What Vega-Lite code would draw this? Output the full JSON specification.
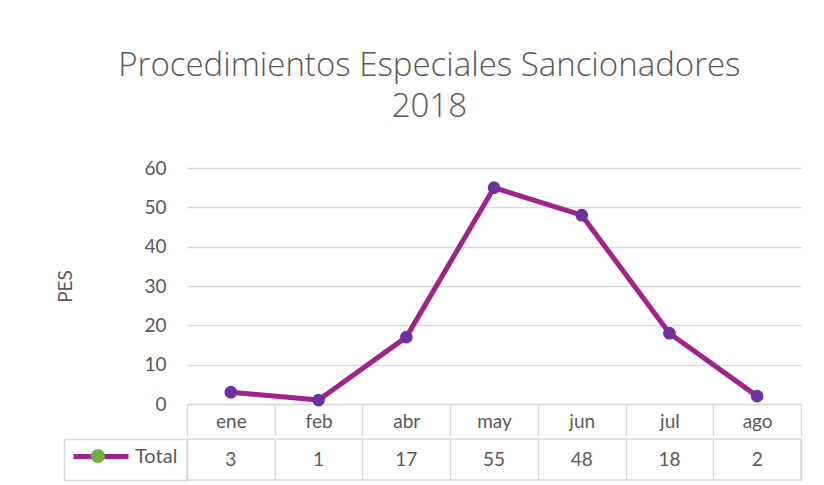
{
  "$schema": "https://vega.github.io/schema/vega-lite/v6.json",
  "background": "white",
  "padding": {"left": 56, "top": 50, "right": 21, "bottom": 8},
  "title": {
    "text": ["Procedimientos Especiales Sancionadores", "2018"],
    "font": "Open Sans", "fontSize": 33, "fontWeight": 300, "color": "#595959",
    "lineHeight": 41, "anchor": "middle", "offset": 35
  },
  "config": {"font": "Lato", "view": {"stroke": null}},
  "data": {
    "values": [
      {"mes": "ene", "total": 3},
      {"mes": "feb", "total": 1},
      {"mes": "abr", "total": 17},
      {"mes": "may", "total": 55},
      {"mes": "jun", "total": 48},
      {"mes": "jul", "total": 18},
      {"mes": "ago", "total": 2}
    ]
  },
  "spacing": 0,
  "vconcat": [
    {
      "width": 614,
      "height": 236,
      "encoding": {
        "x": {
          "field": "mes", "type": "nominal", "sort": null,
          "scale": {"paddingInner": 0, "paddingOuter": 0},
          "axis": {
            "title": null, "labelAngle": 0, "labelFontSize": 19, "labelColor": "#595959",
            "labelPadding": -24, "tickBand": "extent", "tickSize": 32,
            "tickColor": "#D9D9D9", "tickWidth": 1.5,
            "domainColor": "#D9D9D9", "domainWidth": 1.5, "grid": false
          }
        },
        "y": {
          "field": "total", "type": "quantitative",
          "scale": {"domain": [0, 60]},
          "axis": {
            "title": "PES", "titleFontSize": 19, "titleFontWeight": "normal", "titleColor": "#595959",
            "titlePadding": 68, "labelFontSize": 19, "labelColor": "#595959", "labelPadding": 21,
            "labelOverlap": false, "ticks": false, "domain": false, "gridColor": "#D9D9D9", "gridWidth": 1.5,
            "values": [0, 10, 20, 30, 40, 50, 60]
          }
        }
      },
      "layer": [
        {
          "mark": {"type": "line", "strokeWidth": 5, "strokeJoin": "round", "strokeCap": "round"},
          "encoding": {
            "color": {
              "datum": "Total",
              "scale": {"range": ["#A0228C"]},
              "legend": {
                "orient": "none", "legendX": -116, "legendY": 258.5, "title": null,
                "symbolType": "stroke", "symbolSize": 3025, "symbolStrokeWidth": 5,
                "labelFontSize": 20, "labelColor": "#595959", "labelOffset": 4,
                "padding": 0
              }
            }
          }
        },
        {
          "mark": {"type": "point", "filled": true, "size": 160, "opacity": 1, "color": "#7030A0"}
        },
        {
          "transform": [{"filter": "false"}],
          "mark": {"type": "point", "filled": true, "size": 196, "opacity": 1, "color": "#70AD47"},
          "encoding": {
            "shape": {
              "datum": "marcador",
              "scale": {"range": ["circle"]},
              "legend": {
                "orient": "none", "legendX": -96, "legendY": 281, "title": null,
                "symbolSize": 196, "symbolStrokeWidth": 0,
                "labelExpr": "''", "labelFontSize": 1, "labelOffset": 0, "padding": 0, "zindex": 2
              }
            }
          }
        }
      ]
    },
    {
      "width": 614,
      "height": 41,
      "view": {"stroke": "#D9D9D9", "strokeWidth": 1.5},
      "mark": {"type": "text", "fontSize": 19, "color": "#595959", "font": "Lato"},
      "encoding": {
        "x": {
          "field": "mes", "type": "nominal", "sort": null,
          "scale": {"paddingInner": 0, "paddingOuter": 0},
          "axis": {
            "title": null, "labels": false, "ticks": false, "domain": false,
            "grid": true, "tickBand": "extent", "gridColor": "#D9D9D9", "gridWidth": 1.5
          }
        },
        "y": {
          "datum": "Total", "type": "nominal",
          "scale": {"paddingInner": 0, "paddingOuter": 0},
          "axis": {
            "title": null, "labels": false, "grid": false, "offset": 123,
            "tickBand": "extent", "tickSize": -123, "tickColor": "#D9D9D9", "tickWidth": 1.5,
            "domain": true, "domainColor": "#D9D9D9", "domainWidth": 1.5
          }
        },
        "text": {"field": "total", "type": "quantitative"}
      }
    }
  ]
}
